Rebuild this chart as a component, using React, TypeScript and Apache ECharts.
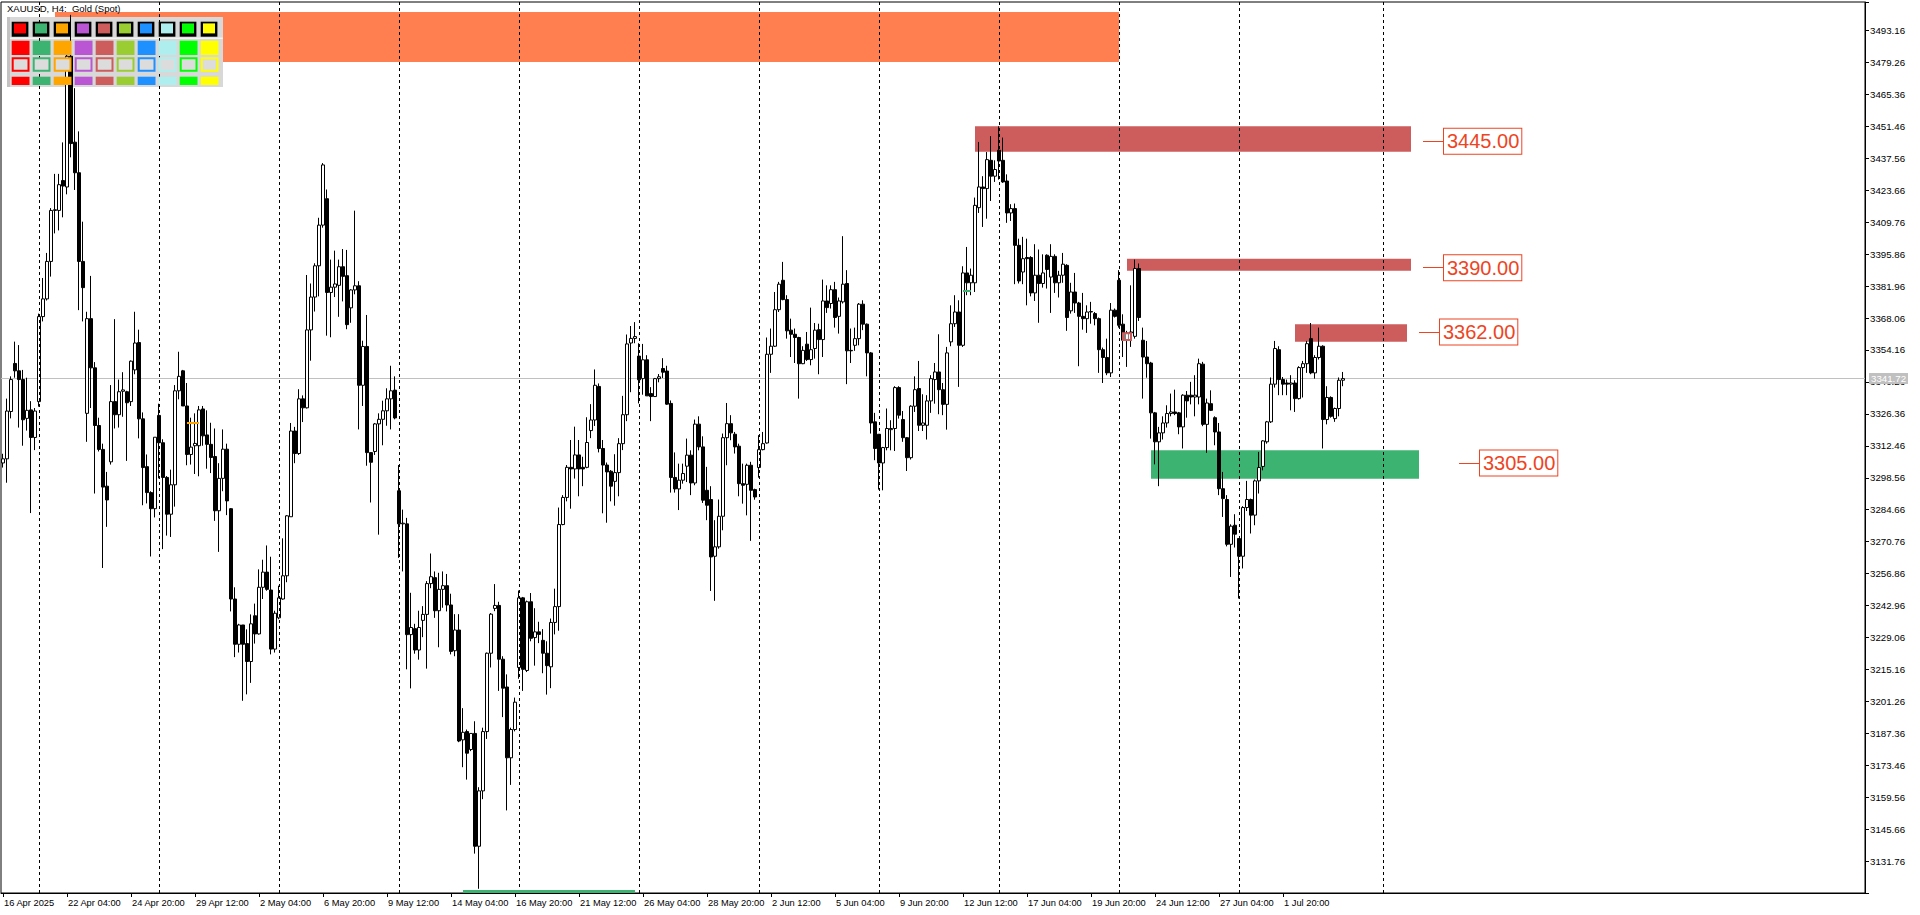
import React, { useEffect, useRef } from 'react';
import * as echarts from 'echarts';

// ---------- DATA ----------
const xLabels: string[] = [
  '16 Apr 2025', '22 Apr 04:00', '24 Apr 20:00', '29 Apr 12:00', '2 May 04:00', '6 May 20:00',
  '9 May 12:00', '14 May 04:00', '16 May 20:00', '21 May 12:00', '26 May 04:00', '28 May 20:00',
  '2 Jun 12:00', '5 Jun 04:00', '9 Jun 20:00', '12 Jun 12:00', '17 Jun 04:00', '19 Jun 20:00',
  '24 Jun 12:00', '27 Jun 04:00', '1 Jul 20:00',
];
const LABEL_STEP = 16;
const TOTAL_SLOTS = 466;

// [open, high, low, close] per H4 bar
const ohlc: [number, number, number, number][] = [
  [3305.0, 3309.0, 3303.0, 3306.8], [3306.8, 3333.0, 3296.4, 3327.6], [3327.4, 3342.7, 3324.4, 3341.3], [3348.3, 3357.8, 3342.1, 3345.1],
  [3345.1, 3356.3, 3320.4, 3341.3], [3341.3, 3345.5, 3312.5, 3323.8], [3324.4, 3342.1, 3319.1, 3327.9], [3328.1, 3331.9, 3283.2, 3316.1],
  [3316.1, 3328.9, 3310.6, 3327.6], [3331.7, 3370.0, 3329.5, 3368.7], [3368.7, 3385.5, 3366.6, 3376.4], [3376.4, 3396.4, 3375.7, 3392.7],
  [3392.7, 3415.9, 3386.1, 3414.9], [3414.9, 3430.8, 3404.9, 3415.2], [3414.9, 3430.8, 3406.2, 3426.1], [3427.9, 3444.5, 3411.9, 3425.5],
  [3425.1, 3486.0, 3421.9, 3482.0], [3482.0, 3500.0, 3438.0, 3444.0], [3444.6, 3468.1, 3423.8, 3431.3], [3431.3, 3449.3, 3371.5, 3392.7],
  [3392.7, 3410.0, 3366.6, 3381.3], [3326.6, 3370.8, 3314.2, 3367.8], [3367.8, 3386.4, 3328.9, 3346.4], [3346.4, 3348.9, 3291.7, 3321.3],
  [3321.3, 3324.7, 3310.0, 3310.9], [3310.9, 3313.4, 3259.3, 3294.5], [3294.9, 3301.1, 3277.2, 3288.9], [3305.5, 3338.9, 3304.3, 3331.7],
  [3331.7, 3367.6, 3320.0, 3326.0], [3326.0, 3341.3, 3320.4, 3336.0], [3336.2, 3344.5, 3325.1, 3336.8], [3336.0, 3336.4, 3305.9, 3331.2],
  [3331.7, 3349.6, 3329.8, 3349.3], [3345.5, 3370.8, 3343.6, 3357.2], [3357.4, 3363.0, 3315.7, 3324.2], [3324.2, 3327.0, 3286.6, 3303.0],
  [3303.4, 3308.7, 3287.4, 3292.1], [3292.1, 3292.7, 3264.3, 3285.1], [3285.1, 3316.2, 3281.3, 3316.2], [3325.7, 3330.8, 3298.3, 3313.8],
  [3313.8, 3315.3, 3267.5, 3298.7], [3298.7, 3299.3, 3273.4, 3282.7], [3282.7, 3302.1, 3272.8, 3295.5], [3295.5, 3338.9, 3286.0, 3336.4],
  [3336.4, 3353.4, 3332.7, 3342.7], [3345.1, 3345.5, 3329.8, 3329.8], [3329.8, 3339.8, 3304.0, 3308.7], [3308.7, 3324.7, 3304.3, 3311.9],
  [3312.5, 3326.6, 3300.2, 3313.5], [3312.5, 3329.8, 3299.2, 3328.1], [3328.5, 3329.8, 3312.5, 3316.8], [3317.2, 3327.9, 3302.5, 3313.1],
  [3313.1, 3322.5, 3300.6, 3307.4], [3307.8, 3320.0, 3279.8, 3284.2], [3284.2, 3304.9, 3266.3, 3298.3], [3298.3, 3319.6, 3292.7, 3311.0],
  [3311.0, 3313.4, 3282.3, 3288.5], [3285.1, 3285.4, 3240.4, 3245.8], [3245.8, 3250.9, 3220.5, 3226.1], [3226.1, 3235.0, 3222.5, 3234.5],
  [3234.5, 3234.5, 3201.5, 3226.1], [3226.4, 3232.6, 3204.3, 3218.6], [3218.6, 3239.1, 3209.3, 3235.0], [3238.5, 3243.8, 3226.4, 3230.6],
  [3230.6, 3258.7, 3230.3, 3250.9], [3250.9, 3262.9, 3245.8, 3257.5], [3257.5, 3269.1, 3249.4, 3250.0], [3249.7, 3264.2, 3221.7, 3224.0],
  [3224.0, 3240.7, 3222.5, 3239.6], [3237.6, 3251.6, 3237.0, 3246.3], [3245.8, 3272.2, 3245.5, 3255.9], [3255.9, 3282.3, 3253.1, 3282.0],
  [3281.6, 3322.4, 3281.6, 3318.9], [3318.9, 3320.7, 3304.9, 3309.1], [3309.1, 3337.1, 3308.5, 3332.9], [3332.9, 3334.4, 3322.8, 3329.0],
  [3329.0, 3386.8, 3328.7, 3362.9], [3362.9, 3383.1, 3349.5, 3377.2], [3377.2, 3391.9, 3370.9, 3390.8], [3390.8, 3411.7, 3377.5, 3408.5],
  [3408.5, 3435.5, 3407.4, 3434.7], [3420.0, 3424.0, 3360.4, 3379.2], [3379.2, 3393.5, 3359.7, 3381.5], [3381.5, 3397.4, 3377.2, 3382.9],
  [3382.3, 3393.5, 3368.6, 3390.4], [3390.4, 3398.1, 3375.3, 3386.2], [3386.5, 3397.7, 3363.2, 3365.2], [3372.5, 3380.6, 3366.0, 3380.3],
  [3380.3, 3414.8, 3378.4, 3382.1], [3382.1, 3384.1, 3319.6, 3338.8], [3338.8, 3358.2, 3329.8, 3355.7], [3355.7, 3369.4, 3303.8, 3309.5],
  [3309.5, 3309.5, 3287.8, 3305.3], [3310.0, 3322.4, 3308.5, 3322.0], [3322.0, 3326.6, 3273.8, 3324.0], [3324.0, 3332.1, 3312.7, 3327.7],
  [3327.7, 3337.5, 3321.2, 3332.9], [3332.9, 3347.3, 3319.6, 3336.4], [3336.7, 3342.7, 3324.0, 3324.6], [3292.9, 3304.1, 3263.7, 3278.5],
  [3278.5, 3284.7, 3257.8, 3278.8], [3278.5, 3281.1, 3215.2, 3230.3], [3230.3, 3248.5, 3206.9, 3233.4], [3232.9, 3235.0, 3222.0, 3223.6],
  [3223.6, 3240.7, 3219.4, 3233.4], [3236.5, 3242.7, 3229.2, 3239.1], [3239.1, 3253.6, 3215.5, 3252.5], [3252.5, 3265.6, 3250.5, 3255.5],
  [3255.1, 3257.8, 3237.6, 3240.7], [3240.7, 3257.2, 3224.8, 3250.0], [3250.0, 3257.8, 3242.0, 3251.6], [3251.6, 3256.7, 3240.4, 3243.2],
  [3243.2, 3248.1, 3221.7, 3223.0], [3223.3, 3239.2, 3220.9, 3232.3], [3232.3, 3239.2, 3183.5, 3184.0], [3184.5, 3198.3, 3172.6, 3187.8],
  [3188.1, 3189.0, 3167.2, 3178.7], [3180.3, 3187.3, 3179.6, 3187.3], [3187.3, 3192.6, 3135.0, 3138.2], [3138.2, 3163.9, 3119.7, 3162.3],
  [3162.3, 3189.8, 3158.7, 3188.1], [3188.1, 3222.5, 3184.9, 3222.2], [3222.2, 3239.7, 3216.0, 3239.2], [3241.7, 3252.3, 3240.5, 3243.0],
  [3243.0, 3244.6, 3205.8, 3219.6], [3219.6, 3220.9, 3194.4, 3207.0], [3207.5, 3213.0, 3153.8, 3176.7], [3176.7, 3189.8, 3164.9, 3189.0],
  [3189.0, 3202.9, 3188.2, 3200.9], [3216.0, 3249.5, 3211.1, 3246.3], [3246.3, 3246.7, 3205.8, 3215.2], [3214.7, 3245.1, 3214.0, 3244.6],
  [3244.6, 3248.4, 3227.4, 3228.7], [3229.0, 3241.8, 3216.8, 3231.5], [3231.5, 3235.9, 3226.6, 3230.4], [3227.8, 3232.7, 3213.5, 3222.2],
  [3222.2, 3227.4, 3204.2, 3216.8], [3216.3, 3237.3, 3207.0, 3235.6], [3235.6, 3250.3, 3230.4, 3242.5], [3242.5, 3285.6, 3232.0, 3278.2],
  [3278.2, 3291.0, 3277.9, 3290.0], [3290.0, 3304.1, 3288.3, 3303.1], [3303.1, 3315.0, 3285.1, 3302.4], [3302.4, 3320.8, 3298.2, 3308.5],
  [3308.5, 3315.0, 3290.5, 3302.4], [3303.1, 3307.7, 3294.9, 3302.4], [3303.1, 3324.9, 3302.7, 3313.9], [3319.1, 3330.6, 3315.8, 3323.7],
  [3323.7, 3345.7, 3321.1, 3338.8], [3338.3, 3339.6, 3309.6, 3311.3], [3311.3, 3315.0, 3283.1, 3304.1], [3304.1, 3305.2, 3279.0, 3301.1],
  [3301.4, 3301.9, 3288.3, 3294.9], [3297.0, 3308.8, 3286.4, 3300.8], [3300.8, 3315.8, 3290.5, 3313.4], [3313.4, 3334.2, 3310.6, 3326.0],
  [3326.0, 3360.9, 3323.2, 3356.8], [3357.2, 3364.6, 3335.8, 3359.2], [3359.2, 3366.3, 3357.1, 3360.0], [3351.5, 3357.1, 3330.9, 3341.2],
  [3341.7, 3356.8, 3334.7, 3349.9], [3349.9, 3351.9, 3334.2, 3334.2], [3335.2, 3338.0, 3323.2, 3333.9], [3333.9, 3342.0, 3333.9, 3341.7],
  [3341.7, 3343.7, 3340.1, 3342.5], [3346.1, 3350.6, 3342.0, 3344.5], [3345.0, 3347.3, 3330.3, 3330.6], [3330.9, 3332.2, 3292.1, 3298.7],
  [3298.7, 3309.6, 3292.1, 3293.7], [3293.7, 3304.7, 3284.5, 3297.5], [3297.5, 3304.7, 3296.0, 3300.4], [3303.6, 3315.6, 3296.7, 3308.4],
  [3308.4, 3310.5, 3291.0, 3296.3], [3296.3, 3323.9, 3295.3, 3321.9], [3321.9, 3325.3, 3310.5, 3312.0], [3312.0, 3316.6, 3287.6, 3288.8],
  [3293.1, 3303.3, 3280.1, 3286.6], [3289.1, 3294.9, 3249.3, 3264.1], [3264.4, 3280.1, 3245.0, 3268.5], [3268.5, 3289.1, 3267.7, 3281.8],
  [3281.8, 3317.8, 3275.7, 3316.0], [3316.0, 3331.1, 3304.0, 3322.1], [3322.1, 3325.8, 3314.9, 3318.1], [3317.5, 3318.5, 3309.1, 3312.0],
  [3312.3, 3313.4, 3290.5, 3296.0], [3296.0, 3304.7, 3287.3, 3295.3], [3295.7, 3304.7, 3282.2, 3304.0], [3304.0, 3305.5, 3271.1, 3293.1],
  [3293.4, 3293.8, 3289.0, 3290.2], [3303.0, 3317.1, 3298.6, 3310.8], [3310.8, 3318.5, 3310.5, 3313.4], [3313.7, 3359.6, 3313.4, 3352.3],
  [3352.3, 3363.5, 3344.2, 3355.8], [3355.8, 3379.4, 3355.5, 3371.7], [3371.7, 3383.8, 3370.7, 3382.8], [3384.5, 3392.5, 3375.8, 3376.1],
  [3376.1, 3378.0, 3359.1, 3362.5], [3362.8, 3367.8, 3351.1, 3361.0], [3361.0, 3363.5, 3348.5, 3359.6], [3359.6, 3359.9, 3333.0, 3348.2],
  [3348.2, 3355.8, 3348.0, 3354.0], [3356.7, 3362.0, 3349.4, 3350.0], [3350.0, 3372.6, 3347.5, 3354.3], [3354.8, 3365.9, 3350.4, 3362.8],
  [3363.0, 3365.6, 3343.6, 3358.7], [3358.7, 3384.8, 3351.1, 3375.5], [3375.5, 3382.3, 3370.3, 3372.6], [3374.4, 3382.3, 3372.2, 3380.4],
  [3380.4, 3383.8, 3363.9, 3368.3], [3368.8, 3377.0, 3361.3, 3375.5], [3375.1, 3403.7, 3374.4, 3382.8], [3383.1, 3388.9, 3339.3, 3353.8],
  [3354.0, 3363.5, 3348.5, 3353.8], [3356.2, 3363.9, 3353.8, 3359.1], [3359.1, 3374.6, 3356.2, 3374.1], [3374.1, 3375.8, 3362.8, 3365.4],
  [3365.4, 3365.7, 3342.7, 3352.9], [3352.9, 3353.3, 3317.8, 3322.4], [3322.9, 3326.8, 3306.2, 3311.3], [3317.5, 3317.5, 3293.4, 3305.0],
  [3305.0, 3312.0, 3293.1, 3311.7], [3311.7, 3328.7, 3310.5, 3320.0], [3319.5, 3323.6, 3310.5, 3320.0], [3320.0, 3338.4, 3310.2, 3337.8],
  [3337.8, 3338.4, 3324.3, 3325.8], [3323.9, 3327.6, 3314.2, 3316.0], [3316.0, 3316.3, 3301.5, 3307.3], [3307.3, 3330.1, 3306.5, 3329.7],
  [3329.7, 3342.7, 3327.2, 3336.9], [3337.4, 3349.4, 3318.9, 3321.4], [3321.4, 3334.9, 3318.9, 3322.4], [3321.4, 3334.5, 3315.2, 3332.0],
  [3332.0, 3343.2, 3326.8, 3341.7], [3341.3, 3348.5, 3330.8, 3344.6], [3344.6, 3361.0, 3326.2, 3336.9], [3336.9, 3339.8, 3325.8, 3330.5],
  [3330.5, 3355.5, 3319.5, 3352.9], [3357.7, 3373.6, 3355.8, 3365.6], [3365.6, 3378.0, 3364.2, 3370.7], [3370.7, 3375.8, 3338.1, 3356.2],
  [3356.2, 3390.6, 3355.5, 3387.7], [3387.7, 3399.0, 3378.0, 3383.4], [3383.4, 3389.6, 3378.0, 3386.7], [3383.4, 3420.5, 3379.4, 3417.1],
  [3416.1, 3444.7, 3413.8, 3425.1], [3425.1, 3429.8, 3407.7, 3424.4], [3424.4, 3440.3, 3411.3, 3437.0], [3436.7, 3447.2, 3419.0, 3429.8],
  [3429.8, 3436.7, 3427.3, 3432.7], [3441.1, 3451.5, 3428.3, 3436.4], [3436.7, 3446.6, 3426.9, 3427.3], [3427.7, 3430.6, 3409.5, 3413.8],
  [3413.8, 3417.6, 3410.3, 3415.7], [3415.7, 3417.9, 3382.8, 3399.7], [3399.7, 3402.6, 3383.1, 3384.2], [3388.1, 3403.4, 3382.8, 3393.9],
  [3394.4, 3402.6, 3373.6, 3393.9], [3394.4, 3395.0, 3377.5, 3379.0], [3379.0, 3400.2, 3375.5, 3386.7], [3386.7, 3397.9, 3366.0, 3383.1],
  [3383.1, 3395.8, 3381.3, 3387.7], [3395.4, 3395.8, 3380.9, 3389.2], [3385.9, 3400.2, 3370.3, 3394.9], [3394.9, 3395.8, 3379.0, 3383.4],
  [3383.4, 3388.6, 3377.0, 3386.7], [3386.7, 3396.4, 3383.4, 3391.5], [3391.0, 3391.5, 3362.5, 3368.3], [3371.2, 3383.4, 3370.0, 3379.4],
  [3379.4, 3387.7, 3370.3, 3374.6], [3374.6, 3375.1, 3347.1, 3368.8], [3368.8, 3379.0, 3363.0, 3367.8], [3367.8, 3373.6, 3361.6, 3370.7],
  [3370.7, 3375.1, 3365.6, 3370.9], [3370.0, 3370.7, 3364.9, 3367.8], [3367.8, 3368.3, 3344.2, 3354.3], [3354.3, 3355.2, 3339.8, 3350.9],
  [3350.9, 3359.1, 3343.2, 3344.2], [3344.2, 3374.6, 3342.4, 3371.5], [3371.5, 3372.2, 3368.3, 3368.8], [3384.5, 3388.9, 3363.9, 3364.9],
  [3365.4, 3369.7, 3351.1, 3358.4], [3358.4, 3362.5, 3346.8, 3361.6], [3361.6, 3382.3, 3355.5, 3362.0], [3360.1, 3393.5, 3359.1, 3389.6],
  [3389.6, 3391.8, 3366.8, 3368.3], [3358.4, 3363.9, 3333.0, 3351.1], [3351.1, 3358.1, 3342.1, 3348.2], [3348.5, 3349.0, 3315.6, 3326.8],
  [3326.8, 3327.2, 3304.4, 3314.2], [3314.2, 3320.7, 3294.9, 3318.1], [3318.1, 3325.3, 3315.2, 3322.4], [3322.4, 3330.1, 3320.4, 3326.5],
  [3326.5, 3335.2, 3325.3, 3327.2], [3327.2, 3336.9, 3325.8, 3326.5], [3326.8, 3327.2, 3317.5, 3320.7], [3320.7, 3334.9, 3311.3, 3334.5],
  [3334.5, 3336.3, 3324.7, 3332.0], [3334.5, 3340.3, 3330.5, 3333.7], [3333.7, 3343.2, 3325.3, 3334.5], [3333.7, 3350.4, 3330.5, 3348.2],
  [3348.0, 3349.0, 3321.0, 3321.8], [3321.8, 3333.0, 3309.4, 3331.1], [3330.8, 3336.6, 3327.6, 3327.9], [3324.7, 3325.3, 3312.7, 3318.5],
  [3318.5, 3322.4, 3291.0, 3293.8], [3293.8, 3301.1, 3281.5, 3289.5], [3289.1, 3291.0, 3268.7, 3269.6], [3269.6, 3278.3, 3255.4, 3277.5],
  [3277.9, 3282.7, 3268.2, 3274.0], [3272.1, 3272.1, 3246.0, 3264.4], [3264.4, 3286.2, 3259.1, 3285.6], [3285.6, 3297.2, 3284.1, 3289.1],
  [3289.1, 3289.5, 3274.3, 3282.3], [3282.3, 3297.8, 3277.9, 3297.2], [3297.2, 3309.8, 3291.7, 3303.0], [3303.5, 3314.9, 3301.8, 3314.6],
  [3314.2, 3323.3, 3313.4, 3322.9], [3322.9, 3342.2, 3322.4, 3339.3], [3339.3, 3358.1, 3337.8, 3354.8], [3354.3, 3355.8, 3334.5, 3341.3],
  [3341.3, 3342.4, 3334.5, 3339.3], [3339.8, 3341.3, 3334.5, 3339.3], [3339.3, 3343.2, 3327.9, 3339.8], [3339.8, 3341.0, 3327.2, 3333.0],
  [3333.0, 3347.1, 3332.6, 3346.5], [3346.5, 3349.4, 3333.5, 3348.2], [3348.2, 3358.1, 3344.2, 3356.9], [3359.1, 3365.9, 3343.6, 3344.2],
  [3344.2, 3351.9, 3341.7, 3350.9], [3350.9, 3363.9, 3350.0, 3355.8], [3355.8, 3356.2, 3311.3, 3323.9], [3323.9, 3338.4, 3321.8, 3333.5],
  [3333.5, 3334.0, 3324.7, 3325.3], [3324.3, 3329.1, 3322.9, 3328.7], [3328.7, 3342.2, 3325.3, 3341.0], [3341.0, 3344.6, 3338.4, 3341.72],
];

const weekSeparators: number[] = [9, 39, 69, 99, 129, 159, 189, 219, 249, 279, 309, 345];

const priceMin = 3117.86;
const priceMax = 3505.6;
const priceStep = 13.9;
const currentPrice = 3341.72;

// rectangle zones: bar range and price range
const zones = [
  { from: 13, to: 279, low: 3479.5, high: 3501.3, color: '#FF7F50' },
  { from: 243, to: 352, low: 3440.4, high: 3451.5, color: '#CD5C5C' },
  { from: 281, to: 352, low: 3388.6, high: 3393.9, color: '#CD5C5C' },
  { from: 323, to: 351, low: 3357.7, high: 3365.4, color: '#CD5C5C' },
  { from: 287, to: 354, low: 3298.1, high: 3310.5, color: '#3CB371' },
];

// level labels: price, connector line from bar -> to bar
const levelLabels = [
  { value: 3445, from: 355, to: 360 },
  { value: 3390, from: 355, to: 360 },
  { value: 3362, from: 354, to: 359 },
  { value: 3305, from: 364, to: 369 },
];

// short marker segments
const segments = [
  { from: 115, to: 158, price: 3118.8, color: '#3CB371', width: 3 },
  { from: 46, to: 49, price: 3322.3, color: '#FFA500', width: 2 },
  { from: 240, to: 242, price: 3379.9, color: '#3CB371', width: 2 },
];
const markerBox = { from: 280, to: 282, low: 3358.5, high: 3361.4 };

const paletteColors = ['#FF0000', '#3CB371', '#FFA500', '#BA55D3', '#CD5C5C', '#9ACD32', '#1E90FF', '#AFEEEE', '#00FF00', '#FFFF00'];

const LABEL_RED = '#EE4422';
const FONT = 'Liberation Sans, Arial, sans-serif';

function isLabelSlot(idx: number): boolean {
  return idx % LABEL_STEP === 0 && idx / LABEL_STEP < xLabels.length;
}

export default function App() {
  const ref = useRef<HTMLDivElement>(null);

  useEffect(() => {
    if (!ref.current) return;
    const chart = echarts.init(ref.current, undefined, { renderer: 'svg' });

    const slots = Array.from({ length: TOTAL_SLOTS }, (_, i) => String(i));
    const candleData = ohlc.map(([o, h, l, c]) => [o, c, l, h]);

    const paletteEls: any[] = [
      { type: 'rect', shape: { x: 7, y: 17, width: 216, height: 70 }, style: { fill: '#d8d8d8' }, z: 2, silent: true },
      { type: 'rect', shape: { x: 7, y: 17, width: 3, height: 70 }, style: { fill: '#c2c2c2' }, z: 2, silent: true },
      { type: 'rect', shape: { x: 10, y: 37.5, width: 213, height: 1.5 }, style: { fill: '#f2f2f2' }, z: 2, silent: true },
    ];
    paletteColors.forEach((c, k) => {
      const x = 11.7 + k * 21;
      paletteEls.push(
        { type: 'rect', shape: { x, y: 21.7, width: 16.7, height: 15 }, style: { fill: '#000' }, z: 100, silent: true },
        { type: 'rect', shape: { x: x + 2.3, y: 23.4, width: 12, height: 10 }, style: { fill: c }, z: 101, silent: true },
        { type: 'rect', shape: { x, y: 40.7, width: 17.8, height: 14.3 }, style: { fill: c }, z: 100, silent: true },
        { type: 'rect', shape: { x: x + 1, y: 58.3, width: 15.8, height: 12.4 }, style: { fill: '#dcdcdc', stroke: c, lineWidth: 2 }, z: 100, silent: true },
        { type: 'rect', shape: { x, y: 76.7, width: 17.8, height: 8.3 }, style: { fill: c }, z: 100, silent: true },
      );
    });
    paletteEls.push({
      type: 'text', x: 7, y: 3, z: 102, silent: true,
      style: { text: 'XAUUSD, H4:  Gold (Spot)', fill: '#000', fontSize: 9.5, fontFamily: FONT },
    });

    const option: any = {
      animation: false,
      backgroundColor: '#ffffff',
      grid: {
        show: true, left: 1, top: 2, width: 1864, height: 891,
        borderColor: '#000', borderWidth: 1, backgroundColor: '#fff',
        outerBoundsMode: 'none', containLabel: false,
      },
      xAxis: {
        type: 'category', data: slots, boundaryGap: true,
        axisLine: { show: true, onZero: false, lineStyle: { color: '#000', width: 1 } },
        axisTick: { show: true, alignWithLabel: true, interval: isLabelSlot, length: 4, lineStyle: { color: '#000' } },
        axisLabel: {
          show: true, interval: isLabelSlot, align: 'left', color: '#000', fontSize: 9.3, fontFamily: FONT,
          margin: 5, padding: [0, 0, 0, 1],
          formatter: (_v: any, idx: number) => xLabels[idx / LABEL_STEP] ?? '',
        },
        splitLine: { show: false },
      },
      yAxis: {
        type: 'value', position: 'right', min: priceMin, max: priceMax, interval: priceStep,
        axisLine: { show: true, lineStyle: { color: '#000', width: 1 } },
        axisTick: { show: true, length: 4, lineStyle: { color: '#000' } },
        axisLabel: {
          show: true, color: '#000', fontSize: 9.7, fontFamily: FONT, margin: 5,
          formatter: (v: number) => (v < 3125 || v > 3500 ? '' : v.toFixed(2)),
        },
        splitLine: { show: false },
      },
      graphic: { elements: paletteEls },
      series: [
        {
          name: 'zones', type: 'line', data: [], z: 1, silent: true, clip: false,
          markArea: {
            z: 1, silent: true,
            data: zones.map((zn) => [
              { coord: [zn.from, zn.high], itemStyle: { color: zn.color, opacity: 1, borderWidth: 0 } },
              { coord: [zn.to, zn.low] },
            ]),
          },
        },
        {
          name: 'price', type: 'line', data: [], z: 2, silent: true, clip: false,
          markLine: {
            z: 2, silent: true, symbol: ['none', 'none'],
            data: [{
              yAxis: currentPrice,
              lineStyle: { color: '#c0c0c0', width: 1, type: 'solid' },
              label: {
                show: true, position: 'end', distance: 4, formatter: currentPrice.toFixed(2),
                backgroundColor: '#c0c0c0', color: '#fff', fontSize: 9.7, fontFamily: FONT, padding: [1, 2, 0, 2],
              },
            }],
          },
        },
        {
          name: 'XAUUSD', type: 'candlestick', data: candleData, z: 3, barWidth: 3, silent: true,
          itemStyle: { color: '#ffffff', color0: '#000000', borderColor: '#000000', borderColor0: '#000000', borderWidth: 1 },
          markLine: {
            z: 4, silent: true, symbol: ['none', 'none'],
            label: { show: false },
            lineStyle: { color: '#000', width: 1, type: [3, 3] },
            data: weekSeparators.map((i) => ({ xAxis: i })),
          },
        },
        {
          name: 'levels', type: 'line', data: [], z: 5, silent: true, clip: false,
          markLine: {
            z: 5, silent: true, symbol: ['none', 'none'],
            data: [
              ...levelLabels.map((l) => [
                {
                  coord: [l.from, l.value],
                  lineStyle: { color: LABEL_RED, width: 1, type: 'solid' },
                  label: {
                    show: true, position: 'end', distance: 1, formatter: l.value.toFixed(2),
                    color: LABEL_RED, fontSize: 20, fontFamily: FONT, backgroundColor: '#fff',
                    borderColor: LABEL_RED, borderWidth: 1, padding: [2, 2, 1, 3], lineHeight: 22,
                  },
                },
                { coord: [l.to, l.value] },
              ]),
              ...segments.map((s) => [
                { coord: [s.from, s.price], lineStyle: { color: s.color, width: s.width, type: 'solid' }, label: { show: false } },
                { coord: [s.to, s.price] },
              ]),
            ],
          },
          markArea: {
            z: 6, silent: true,
            data: [[
              { coord: [markerBox.from, markerBox.high], itemStyle: { color: 'rgba(255,255,255,0.5)', borderColor: '#CD5C5C', borderWidth: 2 } },
              { coord: [markerBox.to, markerBox.low] },
            ]],
          },
        },
      ],
    };

    chart.setOption(option);
    return () => chart.dispose();
  }, []);

  return (
    <div
      ref={ref}
      style={{ position: 'absolute', left: 0, top: 0, width: 1920, height: 915, background: '#fff' }}
    />
  );
}
